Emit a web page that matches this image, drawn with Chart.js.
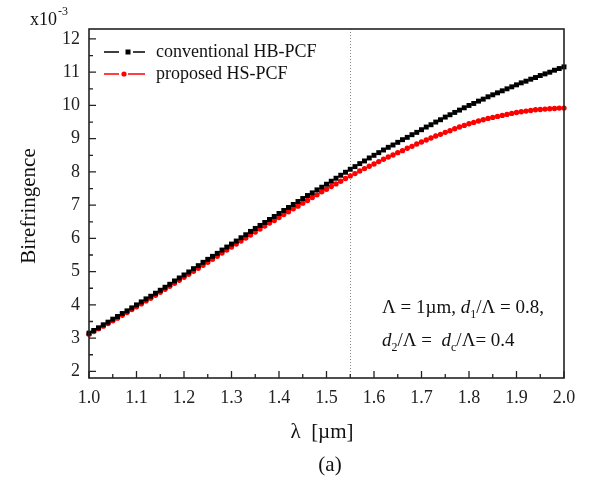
<!DOCTYPE html>
<html>
<head>
<meta charset="utf-8">
<script src="https://cdn.jsdelivr.net/npm/chart.js@4"></script>
<style>
  html, body { margin: 0; padding: 0; background: #fff; }
  #wrap { width: 590px; height: 480px; }
</style>
</head>
<body>
<div id="wrap"><canvas id="birefChart" width="590" height="480"></canvas></div>
<script>
// wavelength samples (um)
const wavelength = [
  1.00, 1.01, 1.02, 1.03, 1.04, 1.05, 1.06, 1.07, 1.08, 1.09,
  1.10, 1.11, 1.12, 1.13, 1.14, 1.15, 1.16, 1.17, 1.18, 1.19,
  1.20, 1.21, 1.22, 1.23, 1.24, 1.25, 1.26, 1.27, 1.28, 1.29,
  1.30, 1.31, 1.32, 1.33, 1.34, 1.35, 1.36, 1.37, 1.38, 1.39,
  1.40, 1.41, 1.42, 1.43, 1.44, 1.45, 1.46, 1.47, 1.48, 1.49,
  1.50, 1.51, 1.52, 1.53, 1.54, 1.55, 1.56, 1.57, 1.58, 1.59,
  1.60, 1.61, 1.62, 1.63, 1.64, 1.65, 1.66, 1.67, 1.68, 1.69,
  1.70, 1.71, 1.72, 1.73, 1.74, 1.75, 1.76, 1.77, 1.78, 1.79,
  1.80, 1.81, 1.82, 1.83, 1.84, 1.85, 1.86, 1.87, 1.88, 1.89,
  1.90, 1.91, 1.92, 1.93, 1.94, 1.95, 1.96, 1.97, 1.98, 1.99,
  2.00
];

// birefringence x10^-3
const conventionalHB = [
  3.15, 3.23, 3.31, 3.40, 3.48, 3.57, 3.65, 3.74, 3.82, 3.91,
  4.00, 4.09, 4.18, 4.26, 4.35, 4.44, 4.53, 4.62, 4.72, 4.81,
  4.90, 4.99, 5.09, 5.18, 5.28, 5.37, 5.46, 5.55, 5.65, 5.74,
  5.83, 5.92, 6.02, 6.11, 6.21, 6.30, 6.39, 6.48, 6.57, 6.66,
  6.75, 6.84, 6.93, 7.02, 7.11, 7.20, 7.29, 7.37, 7.46, 7.54,
  7.63, 7.72, 7.81, 7.90, 7.99, 8.08, 8.16, 8.25, 8.33, 8.42,
  8.50, 8.58, 8.66, 8.74, 8.81, 8.89, 8.97, 9.04, 9.12, 9.19,
  9.27, 9.35, 9.42, 9.50, 9.57, 9.65, 9.72, 9.79, 9.86, 9.93,
  10.00, 10.06, 10.13, 10.19, 10.26, 10.32, 10.38, 10.44, 10.50, 10.56,
  10.62, 10.68, 10.73, 10.79, 10.84, 10.90, 10.95, 11.00, 11.06, 11.11,
  11.16
];

const proposedHS = [
  3.12, 3.20, 3.28, 3.36, 3.44, 3.52, 3.60, 3.69, 3.77, 3.86,
  3.94, 4.03, 4.12, 4.20, 4.29, 4.38, 4.47, 4.56, 4.65, 4.74,
  4.83, 4.92, 5.01, 5.10, 5.19, 5.28, 5.37, 5.46, 5.56, 5.65,
  5.74, 5.83, 5.92, 6.01, 6.10, 6.19, 6.28, 6.37, 6.46, 6.54,
  6.63, 6.72, 6.80, 6.89, 6.97, 7.06, 7.14, 7.23, 7.31, 7.40,
  7.48, 7.56, 7.64, 7.72, 7.80, 7.88, 7.95, 8.03, 8.10, 8.17,
  8.24, 8.31, 8.38, 8.45, 8.51, 8.58, 8.64, 8.71, 8.77, 8.84,
  8.90, 8.96, 9.02, 9.08, 9.13, 9.19, 9.24, 9.30, 9.35, 9.40,
  9.45, 9.49, 9.53, 9.57, 9.61, 9.64, 9.67, 9.70, 9.73, 9.76,
  9.79, 9.81, 9.83, 9.85, 9.87, 9.88, 9.89, 9.90, 9.91, 9.92,
  9.92
];

const xTicks = [1.0, 1.1, 1.2, 1.3, 1.4, 1.5, 1.6, 1.7, 1.8, 1.9, 2.0];
const yTicks = [2, 3, 4, 5, 6, 7, 8, 9, 10, 11, 12];
const markerLine = 1.55;

const seriesNames = ['conventional HB-PCF', 'proposed HS-PCF'];
const serif = '"Liberation Serif", "Times New Roman", serif';

function toPoints(ys) {
  return wavelength.map((x, i) => ({ x: x, y: ys[i] }));
}

// frame, inward ticks, dotted marker, legend and annotation text
const decorations = {
  id: 'decorations',
  beforeDatasetsDraw(chart) {
    const ctx = chart.ctx;
    const xs = chart.scales.x, ys = chart.scales.y;
    const area = chart.chartArea;
    const px = xs.getPixelForValue(markerLine);
    ctx.save();
    ctx.strokeStyle = '#888';
    ctx.lineWidth = 1;
    ctx.setLineDash([1, 2]);
    ctx.beginPath();
    ctx.moveTo(Math.round(px) + 0.5, area.top);
    ctx.lineTo(Math.round(px) + 0.5, area.bottom);
    ctx.stroke();
    ctx.restore();
  },
  afterDraw(chart) {
    const ctx = chart.ctx;
    const xs = chart.scales.x, ys = chart.scales.y;
    const a = chart.chartArea;
    ctx.save();
    ctx.strokeStyle = '#222';
    ctx.lineWidth = 1.6;
    ctx.strokeRect(a.left, a.top, a.right - a.left, a.bottom - a.top);

    ctx.lineWidth = 1.3;
    ctx.beginPath();
    xTicks.forEach((v, i) => {
      const p = xs.getPixelForValue(v);
      ctx.moveTo(p, a.bottom); ctx.lineTo(p, a.bottom - 7);
      if (i < xTicks.length - 1) {
        const m = xs.getPixelForValue(v + 0.05);
        ctx.moveTo(m, a.bottom); ctx.lineTo(m, a.bottom - 4);
      }
    });
    yTicks.forEach((v, i) => {
      const p = ys.getPixelForValue(v);
      ctx.moveTo(a.left, p); ctx.lineTo(a.left + 7, p);
      if (i < yTicks.length - 1) {
        const m = ys.getPixelForValue(v + 0.5);
        ctx.moveTo(a.left, m); ctx.lineTo(a.left + 4, m);
      }
    });
    ctx.stroke();

    // legend
    const rows = [
      { y: 52, color: '#000', shape: 'rect', lx: [104, 119, 133, 145], mx: 128 },
      { y: 74, color: '#f00', shape: 'circle', lx: [104, 119, 128, 145], mx: 124 }
    ];
    rows.forEach((r, i) => {
      ctx.strokeStyle = r.color;
      ctx.fillStyle = r.color;
      ctx.lineWidth = 1.6;
      ctx.beginPath();
      ctx.moveTo(r.lx[0], r.y); ctx.lineTo(r.lx[1], r.y);
      ctx.moveTo(r.lx[2], r.y); ctx.lineTo(r.lx[3], r.y);
      ctx.stroke();
      ctx.beginPath();
      if (r.shape === 'rect') ctx.rect(r.mx - 2.5, r.y - 2.5, 5, 5);
      else ctx.arc(r.mx, r.y, 2.6, 0, Math.PI * 2);
      ctx.fill();
      ctx.fillStyle = '#111';
      ctx.font = '18px ' + serif;
      ctx.textBaseline = 'middle';
      ctx.textAlign = 'left';
      ctx.fillText(seriesNames[i], 156, r.y);
    });

    // parameter annotation
    const runs1 = [['Λ = 1µm, ', 'n'], ['d', 'i'], ['1', 's'], ['/Λ = 0.8,', 'n']];
    const runs2 = [['d', 'i'], ['2', 's'], ['/Λ =  ', 'n'], ['d', 'i'], ['c', 's'], ['/Λ= 0.4', 'n']];
    drawRuns(ctx, runs1, 382, 307);
    drawRuns(ctx, runs2, 382, 340);

    // axis titles and scale factor
    ctx.fillStyle = '#111';
    ctx.textAlign = 'center';
    ctx.textBaseline = 'middle';
    ctx.font = '21px ' + serif;
    ctx.fillText('λ  [µm]', 322, 432);
    ctx.fillText('(a)', 330, 465);
    ctx.save();
    ctx.translate(29, 206);
    ctx.rotate(-Math.PI / 2);
    ctx.fillText('Birefringence', 0, 0);
    ctx.restore();
    ctx.textAlign = 'left';
    ctx.textBaseline = 'alphabetic';
    ctx.font = '18px ' + serif;
    ctx.fillText('x10', 30, 25);
    ctx.font = '12px ' + serif;
    ctx.fillText('-3', 58, 15);
    ctx.restore();
  }
};

function drawRuns(ctx, runs, x, y) {
  ctx.textBaseline = 'alphabetic';
  ctx.textAlign = 'left';
  ctx.fillStyle = '#111';
  const base = y + 6;
  runs.forEach(([text, kind]) => {
    let dy = 0;
    if (kind === 'i') ctx.font = 'italic 19px ' + serif;
    else if (kind === 's') { ctx.font = '12px ' + serif; dy = 5; }
    else ctx.font = '19px ' + serif;
    ctx.fillText(text, x, base + dy);
    x += ctx.measureText(text).width;
  });
}

const ctx = document.getElementById('birefChart').getContext('2d');
new Chart(ctx, {
  type: 'line',
  data: {
    datasets: [
      {
        label: seriesNames[0],
        data: toPoints(conventionalHB),
        borderColor: '#000',
        backgroundColor: '#000',
        borderWidth: 1,
        pointStyle: 'rect',
        pointRadius: 3.5,
        pointBorderWidth: 0,
        clip: false
      },
      {
        label: seriesNames[1],
        data: toPoints(proposedHS),
        borderColor: '#f00',
        backgroundColor: '#f00',
        borderWidth: 1,
        pointStyle: 'circle',
        pointRadius: 2.7,
        pointBorderWidth: 0,
        clip: false
      }
    ]
  },
  options: {
    responsive: false,
    animation: false,
    layout: { padding: { left: 0, top: 29, right: 26, bottom: 0 } },
    plugins: { legend: { display: false }, tooltip: { enabled: false } },
    scales: {
      x: {
        type: 'linear',
        min: 1.0,
        max: 2.0,
        afterBuildTicks: s => { s.ticks = xTicks.map(v => ({ value: v })); },
        afterFit: s => { s.height = 102; },
        grid: { display: false, drawTicks: false },
        border: { display: false },
        ticks: {
          padding: 9,
          color: '#222',
          font: { family: serif, size: 18 },
          callback: v => v.toFixed(1)
        }
      },
      y: {
        type: 'linear',
        min: 1.8,
        max: 12.3,
        afterBuildTicks: s => { s.ticks = yTicks.map(v => ({ value: v })); },
        afterFit: s => { s.width = 89; },
        grid: { display: false, drawTicks: false },
        border: { display: false },
        ticks: {
          padding: 9,
          color: '#222',
          font: { family: serif, size: 18 }
        }
      }
    }
  },
  plugins: [decorations]
});
</script>
</body>
</html>
